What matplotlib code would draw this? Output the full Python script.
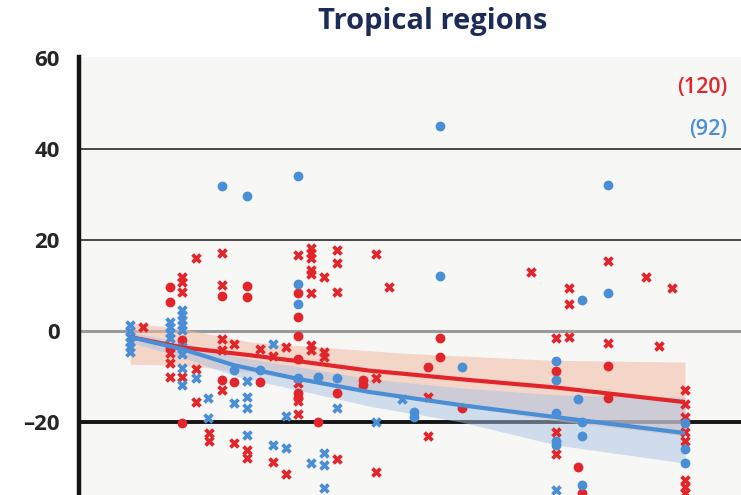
import matplotlib
matplotlib.use('Agg')
import matplotlib.pyplot as plt

plt.rcParams['font.family'] = ['Open Sans', 'DejaVu Sans']

# Cores
VERMELHO = '#e2252b'
AZUL = '#4a8fd5'
FUNDO = '#f7f7f5'

TITULO = "Tropical regions"
Y_TICKS = [60, 40, 20, 0, -20]
Y_LABELS = ["60", "40", "20", "0", "\u201320"]
N_RED = "(120)"
N_BLUE = "(92)"

# Pontos (x arbitrário, y em %)
red_circle_x = [91, 91, 91, 103, 103, 143, 143, 155, 168, 168, 181, 219, 219, 219,
                219, 219, 219, 239, 258, 284, 284, 361, 361, 349, 383, 477, 499,
                503, 529, 529]
red_circle_y = [9.7, 6.4, -3.7, -2.0, -20.2, 7.7, -10.8, -11.2, 9.9, 7.5, -11.2, 8.4,
                3.1, -1.1, -6.2, -13.6, -14.7, -20.0, -13.6, -10.8, -11.9, -1.5, -5.7,
                -7.9, -16.9, -8.8, -29.9, -35.6, -7.7, -14.7]

red_cross_x = [64, 91, 91, 91, 103, 103, 103, 103, 117, 117, 117, 130, 130, 143, 143,
               143, 143, 143, 155, 155, 168, 168, 181, 194, 194, 207, 207, 219, 219,
               219, 219, 232, 232, 232, 232, 232, 232, 232, 232, 245, 245, 245, 258,
               258, 258, 258, 297, 297, 297, 310, 349, 349, 452, 477, 477, 477, 490,
               490, 490, 529, 529, 567, 580, 593, 606, 606, 606, 606, 606, 606, 606,
               606]
red_cross_y = [0.9, -4.8, -7.0, -10.1, 11.9, 10.8, 8.6, -10.1, 16.0, -8.4, -15.6, -22.4,
               -24.2, 17.1, 10.1, -1.8, -4.2, -13.0, -2.9, -24.6, -26.2, -27.9, -4.0,
               -5.5, -28.8, -3.5, -31.4, 16.7, -11.4, -15.4, -18.2, 18.2, 17.1, 16.0,
               13.4, 12.5, 8.4, -3.1, -4.2, 11.9, -4.6, -5.7, 17.8, 14.9, 8.6, -28.1,
               16.9, -10.3, -31.0, 9.7, -14.5, -23.1, 13.0, -1.5, -22.2, -27.0, 9.5,
               5.9, -1.3, 15.4, -2.6, 11.9, -3.3, 9.5, -13.0, -16.0, -18.9, -22.2,
               -24.2, -32.7, -34.3, -35.6]

blue_circle_x = [143, 168, 219, 219, 219, 219, 155, 181, 239, 258, 361, 361, 383, 335,
                 335, 477, 477, 477, 477, 477, 503, 499, 503, 503, 503, 529, 529, 606,
                 606, 606]
blue_circle_y = [31.9, 29.7, 34.1, 10.3, 5.9, -10.3, -8.6, -8.6, -10.1, -10.3, 45.1,
                 12.1, -7.9, -17.8, -18.9, -6.6, -10.8, -18.0, -24.2, -25.1, 6.8, -14.9,
                 -20.0, -23.1, -33.8, 32.1, 8.4, -20.2, -25.9, -29.0]

blue_cross_x = [51, 51, 51, 51, 51, 51, 91, 91, 91, 91, 103, 103, 103, 103, 103, 103,
                103, 103, 103, 117, 129, 129, 155, 168, 168, 168, 168, 194, 194, 207,
                207, 232, 245, 245, 245, 258, 297, 323, 477]
blue_cross_y = [1.3, 0.0, -1.3, -2.4, -3.5, -4.6, 2.0, 0.9, -0.4, -1.5, 4.6, 3.5, 2.4,
                1.3, 0.2, -3.5, -5.1, -8.1, -11.9, -10.3, -14.7, -19.1, -15.8, -11.0,
                -14.5, -16.9, -22.9, -2.9, -25.1, -18.7, -25.7, -29.0, -26.8, -29.5,
                -34.5, -16.9, -20.0, -14.9, -34.9]

# Curvas ajustadas e intervalos
red_fit_x = [51, 104, 171, 219, 291, 321, 383, 477, 606]
red_fit_y = [-1.3, -3.6, -5.3, -6.6, -8.7, -9.3, -10.6, -12.4, -15.6]
red_band_x = [51, 104, 171, 321, 471, 606]
red_band_hi = [1.8, 0.5, -2.4, -4.8, -6.4, -6.8]
red_band_lo = [-7.3, -7.5, -9.0, -14.5, -19.5, -23.0]

blue_fit_x = [51, 104, 155, 219, 291, 383, 477, 606]
blue_fit_y = [-1.3, -4.0, -7.5, -10.5, -13.4, -16.3, -18.9, -22.4]
blue_band_x = [51, 104, 155, 291, 383, 477, 606]
blue_band_hi = [-0.3, -2.5, -5.5, -10.5, -12.5, -14.0, -14.5]
blue_band_lo = [-2.5, -5.8, -9.8, -16.5, -20.0, -25.0, -29.0]

fig = plt.figure(figsize=(7.41, 4.95), dpi=100)
ax = fig.add_axes([79 / 741, 0, 662 / 741, 438 / 495])
ax.set_facecolor(FUNDO)
ax.set_xlim(0, 662)
ax.set_ylim(-36.0, 60.2)

# Linhas horizontais
ax.axhline(40, color='#3a3a3a', lw=1.3, zorder=1)
ax.axhline(20, color='#3a3a3a', lw=1.3, zorder=1)
ax.axhline(0, color='#9a9a9a', lw=2.2, zorder=1)
ax.axhline(-20, color='#151515', lw=2.8, zorder=1)

# Faixas
ax.fill_between(red_band_x, red_band_lo, red_band_hi, color='#f2bba5', alpha=0.55,
                lw=0, zorder=2)
ax.fill_between(blue_band_x, blue_band_lo, blue_band_hi, color='#a8c2e2', alpha=0.5,
                lw=0, zorder=2)

# Pontos
ax.scatter(red_cross_x, red_cross_y, marker='X', s=58, color=VERMELHO, lw=0, zorder=3)
ax.scatter(red_circle_x, red_circle_y, marker='o', s=50, color=VERMELHO, lw=0, zorder=3)
ax.scatter(blue_cross_x, blue_cross_y, marker='X', s=58, color=AZUL, lw=0, zorder=3)
ax.scatter(blue_circle_x, blue_circle_y, marker='o', s=50, color=AZUL, lw=0, zorder=3)

# Curvas
ax.plot(red_fit_x, red_fit_y, color=VERMELHO, lw=3, solid_capstyle='butt', zorder=4)
ax.plot(blue_fit_x, blue_fit_y, color=AZUL, lw=3, solid_capstyle='butt', zorder=4)

# Contagens
ax.text(648, 53.4, N_RED, color=VERMELHO, fontsize=15.5, fontweight='semibold',
        ha='right', va='center')
ax.text(648, 44.2, N_BLUE, color=AZUL, fontsize=15.5, fontweight='semibold',
        ha='right', va='center')

# Eixos
for lado in ['top', 'right', 'bottom']:
    ax.spines[lado].set_visible(False)
ax.spines['left'].set_linewidth(3.2)
ax.spines['left'].set_color('#151515')
ax.set_xticks([])
ax.set_yticks(Y_TICKS)
ax.set_yticklabels(Y_LABELS, fontsize=16, fontweight='bold', color='#262626')
ax.tick_params(axis='y', length=0, pad=14)

fig.text(433 / 741, 1 - 22 / 495, TITULO, ha='center', va='center', fontsize=21,
         fontweight='bold', color='#1c2b57')

fig.savefig('out.png', dpi=100)
plt.close(fig)
